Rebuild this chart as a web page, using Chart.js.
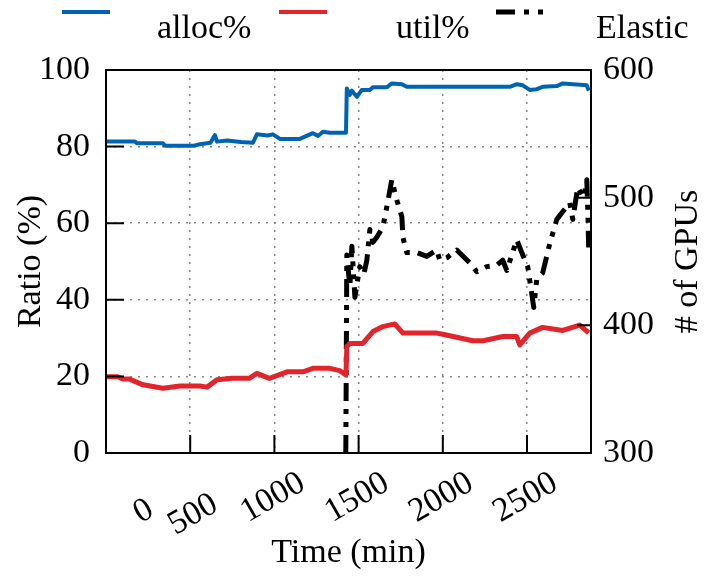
<!DOCTYPE html>
<html>
<head>
<meta charset="utf-8">
<script src="https://cdn.jsdelivr.net/npm/chart.js@4/dist/chart.umd.min.js"></script>
<style>
  html, body { margin: 0; padding: 0; background: #fff; }
</style>
</head>
<body>
<canvas id="chart" width="706" height="577"></canvas>
<script>
// time in minutes
const allocTime = [6, 172, 184, 338, 350, 516, 558, 620, 647, 659, 720, 800, 872, 896, 960, 991, 1033, 1151, 1228, 1260, 1288, 1329, 1425,
  1430, 1448, 1460, 1490, 1519, 1567, 1585, 1668, 1697, 1757, 1786, 2398, 2439, 2475, 2516, 2558, 2593, 2677, 2712, 2795, 2855, 2866];
const allocPct = [81.3, 81.3, 80.9, 80.9, 80.2, 80.2, 80.6, 81.0, 83.0, 81.3, 81.6, 81.2, 81.0, 83.2, 82.9, 83.2, 82.0, 82.0, 83.5, 82.8, 83.9, 83.6, 83.6,
  95.2, 93.5, 94.6, 93.0, 94.8, 94.8, 95.5, 95.5, 96.5, 96.3, 95.6, 95.6, 96.3, 96.0, 94.8, 95.0, 95.6, 95.8, 96.5, 96.2, 96.0, 94.6];

const utilTime = [6, 70, 100, 140, 220, 338, 440, 558, 600, 659, 750, 850, 896, 970, 1075, 1170, 1228, 1329, 1388, 1425,
  1430, 1448, 1525, 1585, 1644, 1715, 1763, 1964, 2000, 2178, 2240, 2356, 2439, 2457, 2516, 2593, 2712, 2813, 2866];
const utilPct = [19.9, 19.9, 19.3, 19.3, 17.8, 16.9, 17.5, 17.5, 17.2, 19.1, 19.5, 19.5, 20.8, 19.5, 21.2, 21.2, 22.1, 22.1, 21.5, 20.4,
  27.8, 28.6, 28.6, 31.7, 33.0, 33.7, 31.3, 31.3, 31.0, 29.3, 29.3, 30.4, 30.4, 28.2, 31.3, 32.8, 32.0, 33.4, 31.4];

const elasticTime = [1424, 1430, 1448, 1460, 1478, 1507, 1531, 1549, 1567, 1585, 1608, 1644, 1668, 1697, 1727, 1757, 1763, 1786, 1846, 1905,
  1964, 1982, 2024, 2083, 2160, 2202, 2261, 2320, 2356, 2380, 2439, 2469, 2504, 2528, 2540, 2558, 2593, 2635, 2677, 2706,
  2754, 2772, 2801, 2837, 2855, 2861, 2866];
const elasticGpus = [300, 455, 430, 462, 422, 446, 440, 451, 475, 465, 469, 477, 493, 514, 498, 485, 469, 457, 457, 454,
  459, 451, 453, 459, 449, 442, 446, 447, 451, 443, 467, 457, 446, 425, 414, 436, 441, 464, 483, 488,
  496, 483, 508, 500, 514, 490, 461];

const xTicks = [0, 500, 1000, 1500, 2000, 2500];
const seriesNames = ["alloc%", "util%", "Elastic"];

// the first two x labels sit lower in the original; nudge them (line height, trailing pad)
const xLabelNudge = { 0: { lh: 1.0, pad: "" }, 500: { lh: 0.69, pad: "  " } };

const toPoints = (xs, ys) => xs.map((x, i) => ({ x: x, y: ys[i] }));
const FONT = "'Liberation Serif', 'DejaVu Serif', serif";

// legend, frame, inward ticks and right title (pgfplots look)
const decor = {
  id: "decor",
  afterDraw(chart) {
    const ctx = chart.ctx;
    const a = chart.chartArea;
    ctx.save();

    // inward tick marks
    ctx.strokeStyle = "#000";
    ctx.lineWidth = 2;
    ctx.setLineDash([]);
    ctx.beginPath();
    chart.scales.x.ticks.forEach(t => {
      const px = chart.scales.x.getPixelForValue(t.value);
      ctx.moveTo(px, a.bottom); ctx.lineTo(px, a.bottom - 18);
    });
    chart.scales.y.ticks.forEach(t => {
      const py = chart.scales.y.getPixelForValue(t.value);
      ctx.moveTo(a.left, py); ctx.lineTo(a.left + 18, py);
    });
    chart.scales.y1.ticks.forEach(t => {
      const py = chart.scales.y1.getPixelForValue(t.value);
      ctx.moveTo(a.right, py); ctx.lineTo(a.right - 14, py);
    });
    ctx.stroke();

    // frame
    ctx.strokeRect(a.left, a.top, a.right - a.left, a.bottom - a.top);

    // right axis title, reading bottom to top
    ctx.fillStyle = "#000";
    ctx.font = "34px " + FONT;
    ctx.textAlign = "center";
    ctx.textBaseline = "middle";
    ctx.translate(688, (a.top + a.bottom) / 2);
    ctx.rotate(-Math.PI / 2);
    ctx.fillText("# of GPUs", 0, 0);
    ctx.restore();

    // legend
    const sampleX = [62, 279, 496];
    const textX = [157, 396, 596];
    ctx.save();
    chart.data.datasets.forEach((ds, i) => {
      ctx.strokeStyle = ds.borderColor;
      ctx.lineWidth = i === 2 ? 5 : 4;
      ctx.setLineDash(i === 2 ? [19, 9, 5, 9, 5, 9] : []);
      ctx.beginPath();
      ctx.moveTo(sampleX[i], 12);
      ctx.lineTo(sampleX[i] + 48, 12);
      ctx.stroke();
      ctx.setLineDash([]);
      ctx.fillStyle = "#000";
      ctx.font = "34px " + FONT;
      ctx.textAlign = "left";
      ctx.textBaseline = "alphabetic";
      ctx.fillText(ds.label, textX[i], 38);
    });
    ctx.restore();
  }
};

new Chart(document.getElementById("chart"), {
  type: "line",
  data: {
    datasets: [
      {
        label: seriesNames[0],
        data: toPoints(allocTime, allocPct),
        borderColor: "#0063b1",
        borderWidth: 4,
        yAxisID: "y"
      },
      {
        label: seriesNames[1],
        data: toPoints(utilTime, utilPct),
        borderColor: "#e3242b",
        borderWidth: 5,
        yAxisID: "y"
      },
      {
        label: seriesNames[2],
        data: toPoints(elasticTime, elasticGpus),
        borderColor: "#000000",
        borderWidth: 5,
        borderDash: [18, 8, 5, 8, 5, 8],
        yAxisID: "y1"
      }
    ]
  },
  options: {
    responsive: false,
    animation: false,
    layout: { padding: { top: 70, left: 0, right: 0, bottom: 0 } },
    elements: {
      point: { radius: 0 },
      line: { tension: 0, fill: false, borderJoinStyle: "round" }
    },
    plugins: {
      legend: { display: false },
      tooltip: { enabled: false }
    },
    scales: {
      x: {
        type: "linear",
        min: 0,
        max: 2880,
        afterBuildTicks: s => { s.ticks = xTicks.map(v => ({ value: v })); },
        afterFit: s => { s.height = 124; },
        border: { display: false, dash: [2, 6] },
        grid: {
          drawTicks: false,
          lineWidth: 1.5,
          color: c => (c.tick && c.tick.value === 0) ? "rgba(0,0,0,0)" : "#888"
        },
        ticks: {
          autoSkip: false,
          minRotation: 30,
          maxRotation: 30,
          padding: 10,
          labelOffset: 28,
          color: "#000",
          callback: v => xLabelNudge[v] ? ["", String(v) + xLabelNudge[v].pad] : String(v),
          font: c => ({
            family: FONT,
            size: 34,
            lineHeight: (c.tick && xLabelNudge[c.tick.value]) ? xLabelNudge[c.tick.value].lh : 1.2
          })
        },
        title: {
          display: true,
          text: "Time (min)",
          color: "#000",
          padding: { top: 0, bottom: 4 },
          font: { family: FONT, size: 34 }
        }
      },
      y: {
        position: "left",
        min: 0,
        max: 100,
        afterFit: s => { s.width = 106; },
        border: { display: false, dash: [2, 6] },
        grid: { drawTicks: false, lineWidth: 1.5, color: "#888" },
        ticks: {
          stepSize: 20,
          padding: 16,
          color: "#000",
          font: { family: FONT, size: 34 }
        },
        title: {
          display: true,
          text: "Ratio (%)",
          color: "#000",
          padding: { top: 11, bottom: 0 },
          font: { family: FONT, size: 34 }
        }
      },
      y1: {
        position: "right",
        min: 300,
        max: 600,
        afterFit: s => { s.width = 115; },
        border: { display: false },
        grid: { display: false, drawTicks: false },
        ticks: {
          stepSize: 100,
          padding: 12,
          color: "#000",
          font: { family: FONT, size: 34 }
        }
      }
    }
  },
  plugins: [decor]
});
</script>
</body>
</html>
